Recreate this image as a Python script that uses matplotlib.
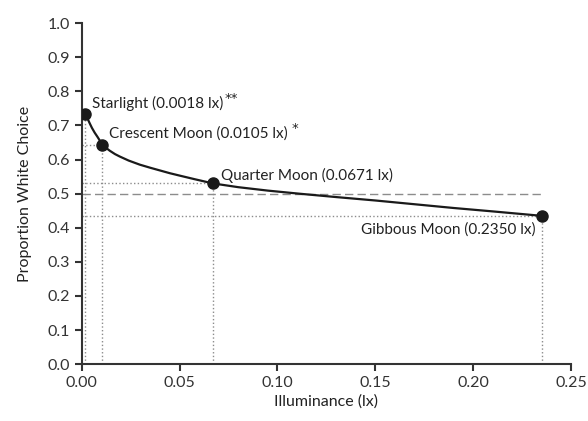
import matplotlib
matplotlib.use('Agg')
import matplotlib.pyplot as plt

plt.rcParams['font.family'] = ['Lato', 'DejaVu Sans']

# Named conditions (points on the curve)
names = ['Starlight', 'Crescent Moon', 'Quarter Moon', 'Gibbous Moon']
lux = [0.0018, 0.0105, 0.0671, 0.2350]
prop_white = [0.735, 0.644, 0.530, 0.435]
stars = ['**', '*', '', '']

# Fitted curve
curve_x = [0.0018, 0.0025, 0.0033, 0.0041, 0.0052, 0.0066, 0.0080, 0.0092,
           0.0105, 0.0125, 0.0143, 0.0170, 0.0194, 0.0240, 0.0297, 0.0350,
           0.0400, 0.0450, 0.0500, 0.0580, 0.0671, 0.0800, 0.0950, 0.1110,
           0.1300, 0.1500, 0.1700, 0.1900, 0.2100, 0.2350]
curve_y = [0.735, 0.727, 0.716, 0.706, 0.693, 0.679, 0.667, 0.656,
           0.644, 0.634, 0.626, 0.616, 0.609, 0.597, 0.585, 0.576,
           0.568, 0.560, 0.553, 0.542, 0.530, 0.519, 0.509, 0.500,
           0.490, 0.480, 0.469, 0.458, 0.448, 0.435]

chance = 0.5

fig = plt.figure(figsize=(5.88, 4.21), dpi=100)
ax = fig.add_axes([0.139, 0.135, 0.832, 0.81])

grey = '#8c8c8c'
for x, y in zip(lux, prop_white):
    ax.plot([x, x], [0, y], ls=':', color=grey, lw=1)
    ax.plot([0, x], [y, y], ls=':', color=grey, lw=1)
ax.plot([0, lux[-1]], [chance, chance], ls=(0, (6, 3)), color=grey, lw=1)

ax.plot(curve_x, curve_y, color='#1a1a1a', lw=1.6, zorder=3)
ax.plot(lux, prop_white, 'o', color='#1a1a1a', ms=8, zorder=4)

# labels
lab_kw = dict(textcoords='offset points', fontsize=11, color='#222222')
t0 = ax.annotate(f'{names[0]} ({lux[0]:.4f} lx)', (lux[0], prop_white[0]),
                 xytext=(5, 7), va='center', **lab_kw)
t1 = ax.annotate(f'{names[1]} ({lux[1]:.4f} lx)', (lux[1], prop_white[1]),
                 xytext=(5, 8), va='center', **lab_kw)
ax.annotate(f'{names[2]} ({lux[2]:.4f} lx)', (lux[2], prop_white[2]),
            xytext=(6, 6), va='center', **lab_kw)
ax.annotate(f'{names[3]} ({lux[3]:.4f} lx)', (lux[3], prop_white[3]),
            xytext=(-4, -10), va='center', ha='right', **lab_kw)
# significance stars, attached to the end of their labels
for t, s, gap in ((t0, stars[0], 0.5), (t1, stars[1], 2.5)):
    ax.annotate(s, xy=(1, 1), xycoords=t, xytext=(gap, -6),
                textcoords='offset points', fontsize=9.5, va='bottom',
                family='DejaVu Sans', color='#222222')

ax.set_xlim(0, 0.25)
ax.set_ylim(0, 1.0)
ax.set_xticks([0, 0.05, 0.10, 0.15, 0.20, 0.25])
ax.set_xticklabels(['0.00', '0.05', '0.10', '0.15', '0.20', '0.25'])
ax.set_yticks([i / 10 for i in range(11)])
ax.set_yticklabels([f'{i / 10:.1f}' for i in range(11)])
ax.spines['top'].set_visible(False)
ax.spines['right'].set_visible(False)
for s in ('left', 'bottom'):
    ax.spines[s].set_linewidth(1.5)
    ax.spines[s].set_color('#333333')
ax.tick_params(direction='out', length=5, width=1.5, labelsize=11.5, colors='#333333')
ax.set_xlabel('Illuminance (lx)', fontsize=11.5, labelpad=3, color='#222222')
ax.set_ylabel('Proportion White Choice', fontsize=11.5, labelpad=11, color='#222222')

fig.savefig('out.png', dpi=100)
